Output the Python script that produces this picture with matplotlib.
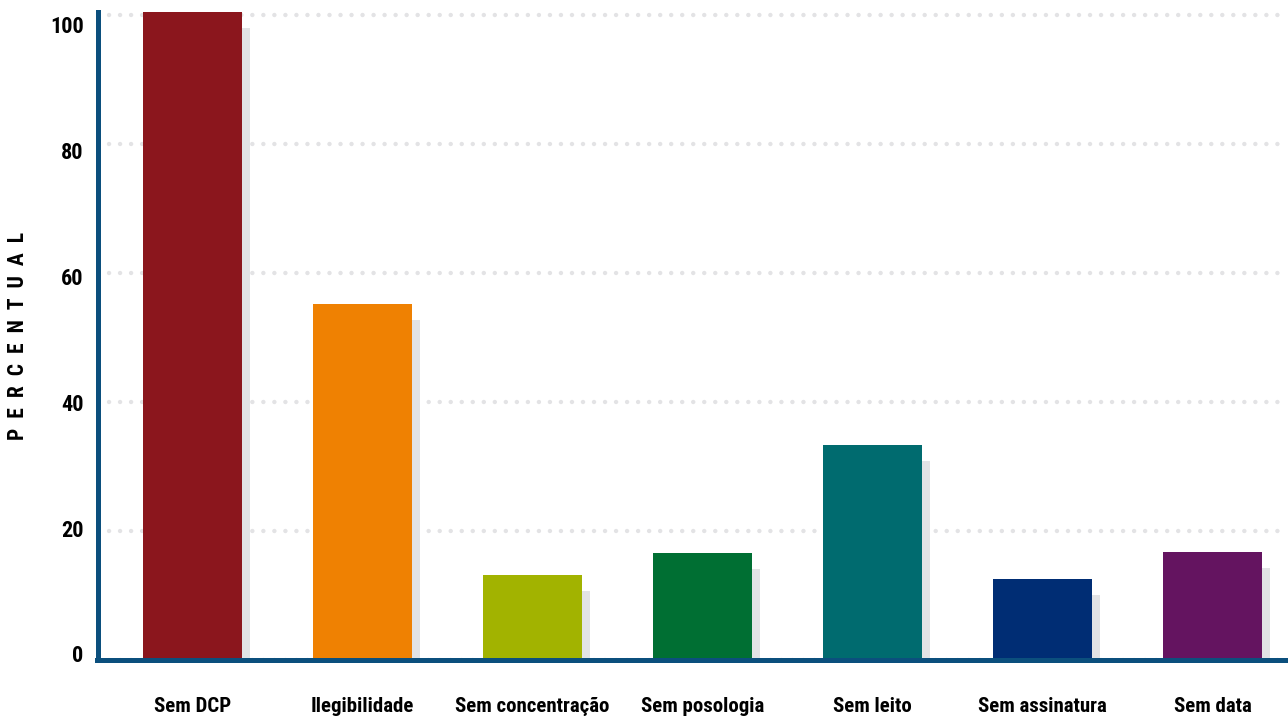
import matplotlib
matplotlib.use("Agg")
import matplotlib.pyplot as plt
import matplotlib.transforms as mtransforms
import numpy as np

categories = ["Sem DCP", "Ilegibilidade", "Sem concentração", "Sem posologia",
              "Sem leito", "Sem assinatura", "Sem data"]
values = [100.5, 55.2, 13.1, 16.5, 33.3, 12.5, 16.7]
colors = ["#8b161d", "#ef8102", "#a2b300", "#006f33", "#006b6f", "#002d74", "#641460"]
yticks = [0, 20, 40, 60, 80, 100]

FONT = ["Liberation Sans Narrow", "Roboto Condensed", "DejaVu Sans Condensed", "Liberation Sans", "DejaVu Sans"]
plt.rcParams["font.family"] = FONT
plt.rcParams["font.weight"] = "bold"

fig = plt.figure(figsize=(12.88, 7.16), dpi=100)
left = 97.5 / 1288
bottom = (716 - 659.5) / 716
top = (716 - 12) / 716
ax = fig.add_axes([left, bottom, 1 - left, top - bottom])

x = np.arange(len(categories))
width = 99 / 170
ymax = 100.5
ax.set_xlim(-0.559, -0.559 + (1288 - 97.5) / 170)
ax.set_ylim(0, ymax)

# shadows: offset 8 px right, 16 px down
dx = 8 / 170
dy = 16 / ((659.5 - 12) / ymax)
shadow_h = [v - dy for v in values]
ax.bar(x + dx, shadow_h, width=width, color="#e2e3e5", zorder=2, linewidth=0)
ax.bar(x, values, width=width, color=colors, zorder=3, linewidth=0)

ax.set_yticks(yticks)
ax.set_yticklabels([str(t) for t in yticks], fontsize=16, fontweight="heavy")
ax.set_xticks(x)
ax.set_xticklabels(categories, fontsize=15, fontweight="heavy", va="top")
ax.tick_params(axis="y", length=0, pad=10)
ax.tick_params(axis="x", length=0, pad=27)

# tick labels in the reference sit on a slightly tighter scale than the grid
for t, lab in zip(yticks, ax.get_yticklabels()):
    off_px = 5.5 - t * 0.15  # upward shift in pixels
    lab.set_transform(lab.get_transform() +
                      mtransforms.ScaledTranslation(0, off_px / 100, fig.dpi_scale_trans))

ax.yaxis.grid(True, color="#e3e3e5", linewidth=3.2,
              linestyle=(0, (0.01, 2.47)), dash_capstyle="round", zorder=1)
ax.set_axisbelow(True)
ax.xaxis.grid(False)

for s in ["top", "right"]:
    ax.spines[s].set_visible(False)
for s in ["left", "bottom"]:
    ax.spines[s].set_color("#0b4f7d")
    ax.spines[s].set_linewidth(3.6)
    ax.spines[s].set_zorder(5)

fig.text(18 / 1288, 1 - 336 / 716, "P  E  R  C  E  N  T  U  A  L", rotation=90,
         ha="center", va="center", fontsize=15.5, fontweight="heavy")

fig.savefig("out.png", dpi=100)
